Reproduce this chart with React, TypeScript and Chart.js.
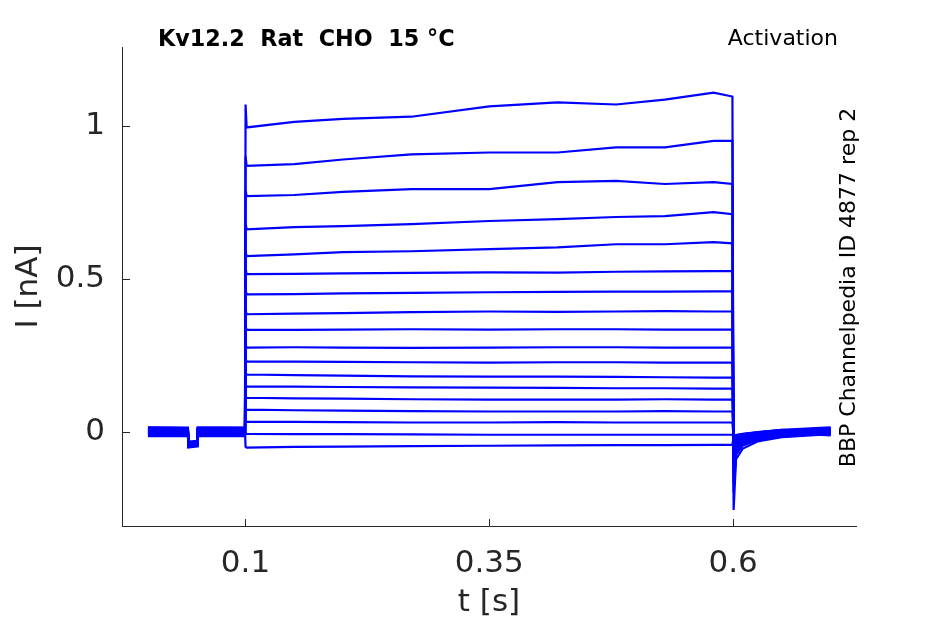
import { useEffect, useRef } from "react";
import { Chart, registerables } from "chart.js";
import type { Plugin } from "chart.js";

Chart.register(...registerables);

// sample times (s) for the holding, step and tail parts of each sweep
const holdTimes = [0, 0.041, 0.0415, 0.0505, 0.051, 0.0995];
const stepTimes = [0.1001, 0.1012, 0.15, 0.2, 0.27, 0.35, 0.42, 0.48, 0.53, 0.58, 0.5993];
const tailTimes = [0.6005, 0.603, 0.61, 0.625, 0.65, 0.7];

// current (nA), one row per sweep, top sweep first
const holdCurrents = [
  [0.004, 0.002, -0.045, -0.04, 0.003, 0.002],
  [-0.005, -0.006, -0.048, -0.044, -0.004, -0.003],
  [0.01, 0.008, -0.038, -0.035, 0.009, 0.01],
  [-0.012, -0.01, -0.05, -0.046, -0.011, -0.01],
  [0.006, 0.005, -0.04, -0.037, 0.006, 0.005],
  [-0.002, -0.003, -0.044, -0.041, -0.002, -0.001],
  [0.013, 0.012, -0.034, -0.031, 0.012, 0.013],
  [-0.008, -0.007, -0.047, -0.043, -0.008, -0.007],
  [0.001, 0.0, -0.042, -0.039, 0.001, 0.002],
  [-0.015, -0.014, -0.052, -0.048, -0.014, -0.015],
  [0.008, 0.007, -0.037, -0.034, 0.008, 0.007],
  [-0.004, -0.005, -0.045, -0.042, -0.004, -0.003],
  [0.011, 0.01, -0.036, -0.033, 0.011, 0.01],
  [-0.01, -0.009, -0.049, -0.045, -0.01, -0.009],
  [0.003, 0.004, -0.041, -0.038, 0.003, 0.004],
  [-0.006, -0.007, -0.046, -0.043, -0.006, -0.005],
  [0.014, 0.013, -0.033, -0.03, 0.014, 0.013],
  [-0.001, -0.002, -0.043, -0.04, -0.001, 0.0],
];

const stepCurrents = [
  [1.07, 0.995, 1.013, 1.023, 1.03, 1.064, 1.077, 1.07, 1.086, 1.109, 1.096],
  [0.9, 0.869, 0.875, 0.89, 0.907, 0.913, 0.913, 0.93, 0.93, 0.951, 0.951],
  [0.79, 0.77, 0.774, 0.784, 0.793, 0.793, 0.816, 0.82, 0.81, 0.816, 0.81],
  [0.68, 0.662, 0.669, 0.672, 0.679, 0.689, 0.695, 0.702, 0.705, 0.718, 0.711],
  [0.59, 0.574, 0.58, 0.587, 0.59, 0.597, 0.603, 0.613, 0.613, 0.62, 0.616],
  [0.535, 0.515, 0.516, 0.518, 0.519, 0.521, 0.52, 0.523, 0.524, 0.525, 0.525],
  [0.465, 0.449, 0.45, 0.452, 0.454, 0.456, 0.457, 0.458, 0.458, 0.459, 0.459],
  [0.398, 0.384, 0.386, 0.388, 0.391, 0.393, 0.392, 0.393, 0.394, 0.393, 0.393],
  [0.345, 0.334, 0.333, 0.334, 0.335, 0.334, 0.335, 0.335, 0.334, 0.334, 0.334],
  [0.285, 0.275, 0.276, 0.275, 0.274, 0.275, 0.276, 0.276, 0.275, 0.275, 0.275],
  [0.238, 0.23, 0.229, 0.228, 0.227, 0.226, 0.227, 0.227, 0.226, 0.226, 0.226],
  [0.193, 0.187, 0.185, 0.183, 0.181, 0.18, 0.18, 0.179, 0.178, 0.177, 0.177],
  [0.153, 0.148, 0.147, 0.146, 0.145, 0.144, 0.143, 0.142, 0.142, 0.141, 0.141],
  [0.115, 0.111, 0.109, 0.108, 0.106, 0.105, 0.105, 0.105, 0.106, 0.105, 0.105],
  [0.076, 0.072, 0.07, 0.069, 0.067, 0.066, 0.066, 0.066, 0.067, 0.066, 0.066],
  [0.036, 0.033, 0.032, 0.031, 0.03, 0.03, 0.031, 0.03, 0.03, 0.03, 0.03],
  [-0.004, -0.007, -0.008, -0.008, -0.009, -0.01, -0.01, -0.01, -0.01, -0.01, -0.01],
  [-0.049, -0.052, -0.05, -0.049, -0.047, -0.046, -0.045, -0.044, -0.044, -0.043, -0.043],
];

const tailCurrents = [
  [-0.256, -0.09, -0.055, -0.032, -0.018, -0.008],
  [-0.2, -0.075, -0.045, -0.028, -0.016, -0.005],
  [-0.17, -0.065, -0.04, -0.025, -0.013, -0.003],
  [-0.14, -0.055, -0.035, -0.022, -0.011, 0.0],
  [-0.12, -0.048, -0.031, -0.019, -0.009, 0.002],
  [-0.1, -0.043, -0.028, -0.017, -0.009, -0.004],
  [-0.085, -0.039, -0.026, -0.015, -0.007, 0.004],
  [-0.07, -0.035, -0.023, -0.013, -0.006, -0.01],
  [-0.06, -0.031, -0.021, -0.012, -0.004, 0.006],
  [-0.05, -0.028, -0.019, -0.01, -0.003, -0.012],
  [-0.04, -0.024, -0.016, -0.009, -0.002, 0.008],
  [-0.035, -0.021, -0.014, -0.008, 0.0, -0.006],
  [-0.03, -0.019, -0.012, -0.006, 0.002, 0.01],
  [-0.025, -0.017, -0.011, -0.005, 0.003, -0.004],
  [-0.022, -0.015, -0.01, -0.004, 0.004, 0.012],
  [-0.02, -0.013, -0.009, -0.003, 0.005, 0.002],
  [-0.018, -0.012, -0.008, -0.002, 0.006, 0.014],
  [-0.016, -0.011, -0.007, -0.001, 0.006, -0.002],
];

const xTickValues = [0.1, 0.35, 0.6];
const yTickValues = [0, 0.5, 1];

const FONT = "DejaVu Sans";
const AXIS_COLOR = "#262626";

const decorations: Plugin<"line"> = {
  id: "decorations",
  afterDraw(chart) {
    const { ctx, chartArea } = chart;
    const xs = chart.scales.x;
    const ys = chart.scales.y;
    ctx.save();
    // inward tick marks
    ctx.strokeStyle = AXIS_COLOR;
    ctx.lineWidth = 1;
    ctx.beginPath();
    xTickValues.forEach((v) => {
      const px = Math.round(xs.getPixelForValue(v)) + 0.5;
      ctx.moveTo(px, chartArea.bottom);
      ctx.lineTo(px, chartArea.bottom - 7);
    });
    yTickValues.forEach((v) => {
      const py = Math.round(ys.getPixelForValue(v)) + 0.5;
      ctx.moveTo(chartArea.left, py);
      ctx.lineTo(chartArea.left + 8, py);
    });
    ctx.stroke();

    ctx.fillStyle = "#000";
    ctx.textBaseline = "middle";
    ctx.font = `bold 22.3px "${FONT}"`;
    ctx.textAlign = "left";
    ctx.fillText("Kv12.2  Rat  CHO  15 °C", 158, 40);
    ctx.font = `22px "${FONT}"`;
    ctx.textAlign = "right";
    ctx.fillText("Activation", 838, 39);

    ctx.translate(849, 287.5);
    ctx.rotate(-Math.PI / 2);
    ctx.textAlign = "center";
    ctx.fillText("BBP Channelpedia ID 4877 rep 2", 0, 0);
    ctx.restore();
  },
};

export default function App() {
  const chartRef = useRef<HTMLCanvasElement>(null);
  const chartInstance = useRef<Chart | null>(null);

  useEffect(() => {
    document.body.style.margin = "0";
    if (!chartRef.current) return;
    if (chartInstance.current) chartInstance.current.destroy();
    const ctx = chartRef.current.getContext("2d");
    if (!ctx) return;

    const times = [...holdTimes, ...stepTimes, ...tailTimes];
    const datasets = holdCurrents.map((hold, i) => {
      const values = [...hold, ...stepCurrents[i], ...tailCurrents[i]];
      return {
        label: `sweep ${i + 1}`,
        data: times.map((t, j) => ({ x: t, y: values[j] })),
        borderColor: "#0000ff",
        borderWidth: 2.2,
        pointRadius: 0,
        tension: 0,
        fill: false,
      };
    });

    chartInstance.current = new Chart(ctx, {
      type: "line",
      data: { datasets },
      plugins: [decorations],
      options: {
        animation: false,
        responsive: true,
        maintainAspectRatio: false,
        layout: { padding: { top: 47, right: 89, left: 0, bottom: 0 } },
        plugins: {
          legend: { display: false },
          tooltip: { enabled: false },
        },
        scales: {
          x: {
            type: "linear",
            min: -0.0266,
            max: 0.726,
            afterBuildTicks: (scale) => {
              scale.ticks = xTickValues.map((value) => ({ value }));
            },
            afterFit: (scale) => {
              scale.height = 98;
            },
            ticks: {
              font: { family: FONT, size: 31 },
              color: AXIS_COLOR,
              padding: 19,
              maxRotation: 0,
              autoSkip: false,
              callback: (value) => String(value),
            },
            grid: { display: false, drawTicks: false },
            border: { display: true, color: AXIS_COLOR, width: 1 },
            title: {
              display: true,
              text: "t [s]",
              font: { family: FONT, size: 31 },
              color: AXIS_COLOR,
              padding: { top: 0, bottom: 2 },
            },
          },
          y: {
            type: "linear",
            min: -0.3085,
            max: 1.258,
            afterBuildTicks: (scale) => {
              scale.ticks = yTickValues.map((value) => ({ value }));
            },
            afterFit: (scale) => {
              scale.width = 122;
            },
            ticks: {
              font: { family: FONT, size: 31 },
              color: AXIS_COLOR,
              padding: 17,
              autoSkip: false,
              callback: (value) => String(value),
            },
            grid: { display: false, drawTicks: false },
            border: { display: true, color: AXIS_COLOR, width: 1 },
            title: {
              display: true,
              text: "I [nA]",
              font: { family: FONT, size: 31 },
              color: AXIS_COLOR,
              padding: { top: 10, bottom: 0 },
            },
          },
        },
      },
    });

    return () => {
      if (chartInstance.current) {
        chartInstance.current.destroy();
        chartInstance.current = null;
      }
    };
  }, []);

  return (
    <div style={{ width: 945, height: 624, position: "relative", background: "#fff" }}>
      <canvas ref={chartRef} />
    </div>
  );
}
